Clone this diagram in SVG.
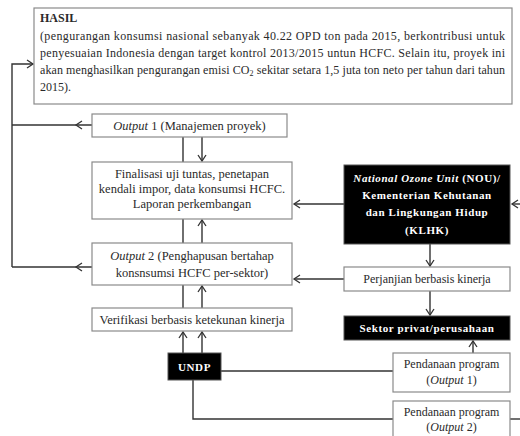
<svg xmlns="http://www.w3.org/2000/svg" width="520" height="436" viewBox="0 0 520 436" font-family="'Liberation Serif', 'Times New Roman', serif">
<defs>
<marker id="ah" markerUnits="userSpaceOnUse" markerWidth="10" markerHeight="10" refX="6" refY="4" orient="auto" overflow="visible">
<path d="M0,0 L6,4 L0,8" fill="none" stroke="#333" stroke-width="1.3"/>
</marker>
<style>
.box{fill:#fff;stroke:#8a8a8a;stroke-width:1.2}
.blk{fill:#000;stroke:#555;stroke-width:1}
.ln{fill:none;stroke:#333;stroke-width:1.4}
.arr{fill:none;stroke:#333;stroke-width:1.4;marker-end:url(#ah)}
.mid{fill:none;stroke:#333;stroke-width:1.4;marker-mid:url(#ah)}
text{font-family:'Liberation Serif','Times New Roman',serif;font-size:12px;fill:#2a2a2a}
.c{text-anchor:middle}
.l{font-size:12.5px}
.w{fill:#fff;font-weight:bold;letter-spacing:0.6px;font-size:11px}
</style>
</defs>
<rect width="520" height="436" fill="#fff"/>

<g id="connectors">
<path class="arr" d="M12,267 L12,64 L33,64"/>
<path class="mid" d="M92,125 L76,125 L12,125"/>
<path class="mid" d="M92,267 L76,267 L12,267"/>
<path class="ln" d="M183,137 L183,162"/>
<path class="arr" d="M202,137 L202,161"/>
<path class="ln" d="M183,243 L183,219"/>
<path class="arr" d="M202,243 L202,220"/>
<path class="ln" d="M183,308 L183,285"/>
<path class="arr" d="M202,308 L202,286"/>
<path class="arr" d="M183,353 L183,332"/>
<path class="arr" d="M202,353 L202,332"/>
<path class="ln" d="M221,371 L393,371"/>
<path class="ln" d="M193,380 L193,419 L393,419"/>
<path class="ln" d="M510,419 L520,419"/>
<path class="arr" d="M344,204 L294,204"/>
<path class="arr" d="M520,204 L512,204"/>
<path class="arr" d="M430,244 L430,266"/>
<path class="arr" d="M344,279 L294,279"/>
<path class="arr" d="M430,291 L430,315"/>
<path class="arr" d="M473,353 L473,341"/>
</g>

<g id="hasil">
<rect class="box" x="34" y="8" width="478" height="96"/>
<text x="40" y="22" font-weight="bold">HASIL</text>
<text x="40" y="40" textLength="465" lengthAdjust="spacing">(pengurangan konsumsi nasional sebanyak 40.22 OPD ton pada 2015, berkontribusi untuk</text>
<text x="40" y="57" textLength="465" lengthAdjust="spacing">penyesuaian Indonesia dengan target kontrol 2013/2015 untun HCFC. Selain itu, proyek ini</text>
<text x="40" y="74" textLength="465" lengthAdjust="spacing">akan menghasilkan pengurangan emisi CO<tspan font-size="8" dy="2">2</tspan><tspan dy="-2"> sekitar setara 1,5 juta ton neto per tahun dari tahun</tspan></text>
<text x="40" y="91">2015).</text>
</g>

<g id="output1">
<rect class="box" x="92" y="114" width="195" height="23"/>
<text class="c l" x="189.5" y="130"><tspan font-style="italic">Output</tspan> 1 (Manajemen proyek)</text>
</g>

<g id="finalisasi">
<rect class="box" x="92" y="162" width="200" height="57"/>
<text class="c l" x="192" y="178">Finalisasi uji tuntas, penetapan</text>
<text class="c l" x="192" y="193">kendali impor, data konsumsi HCFC.</text>
<text class="c l" x="192" y="208">Laporan perkembangan</text>
</g>

<g id="output2">
<rect class="box" x="92" y="243" width="200" height="42"/>
<text class="c l" x="192" y="260"><tspan font-style="italic">Output</tspan> 2 (Penghapusan bertahap</text>
<text class="c l" x="192" y="277">konsnsumsi HCFC per-sektor)</text>
</g>

<g id="verifikasi">
<rect class="box" x="92" y="308" width="200" height="23"/>
<text class="c l" x="192" y="324">Verifikasi berbasis ketekunan kinerja</text>
</g>

<g id="undp">
<rect class="blk" x="168" y="353" width="53" height="27"/>
<text class="c w" x="194.5" y="370.5">UNDP</text>
</g>

<g id="nou">
<rect class="blk" x="344" y="165" width="166" height="79"/>
<text class="c w" x="427" y="182"><tspan font-style="italic">National Ozone Unit</tspan> (NOU)/</text>
<text class="c w" x="427" y="199">Kementerian Kehutanan</text>
<text class="c w" x="427" y="216">dan Lingkungan Hidup</text>
<text class="c w" x="427" y="234">(KLHK)</text>
</g>

<g id="perjanjian">
<rect class="box" x="344" y="267" width="166" height="24"/>
<text class="c" x="427" y="283">Perjanjian berbasis kinerja</text>
</g>

<g id="sektor">
<rect class="blk" x="344" y="316" width="166" height="24"/>
<text class="c w" x="427" y="331.5">Sektor privat/perusahaan</text>
</g>

<g id="pendanaan1">
<rect class="box" x="393" y="353" width="117" height="39"/>
<text class="c" x="451.5" y="368">Pendanaan program</text>
<text class="c" x="451.5" y="384">(<tspan font-style="italic">Output</tspan> 1)</text>
</g>

<g id="pendanaan2">
<rect class="box" x="393" y="401" width="117" height="40"/>
<text class="c" x="451.5" y="416">Pendanaan program</text>
<text class="c" x="451.5" y="431">(<tspan font-style="italic">Output</tspan> 2)</text>
</g>
</svg>
